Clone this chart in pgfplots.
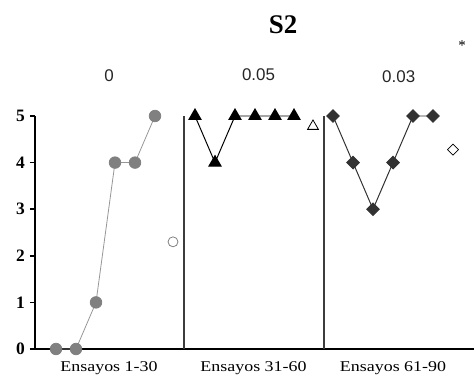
\documentclass[border=0pt]{standalone}
\usepackage{fontspec}
\setmainfont{Liberation Serif}
\newfontfamily\sansf{Liberation Sans}
\usepackage{graphicx}
\usepackage{pgfplots}
\pgfplotsset{compat=1.18}
\definecolor{gcirc}{RGB}{128,128,128}
\definecolor{gline}{RGB}{150,150,150}
\definecolor{dia}{RGB}{50,50,50}
\definecolor{sep}{RGB}{60,60,60}
\begin{document}
\begin{tikzpicture}
\useasboundingbox (-35bp,-32bp) rectangle (439bp,349bp);
\begin{axis}[
  scale only axis, width=439bp, height=233bp,
  xmin=35, xmax=474, ymin=0, ymax=5,
  axis x line*=bottom, axis y line*=left,
  axis line style={-, line width=1.6pt, black},
  xtick=\empty, ytick={0,1,2,3,4,5},
  tick align=outside, major tick length=5bp,
  tick style={line width=1.6pt, black},
  /pgf/number format/assume math mode=true,
  yticklabel style={font=\fontsize{17.5}{17.5}\selectfont\bfseries, inner sep=1pt, xshift=-4bp},
  clip=false,
]
% separators
\draw[sep, line width=1.1pt] (axis cs:184,0) -- (axis cs:184,5);
\draw[sep, line width=1.1pt] (axis cs:324,0) -- (axis cs:324,5);
% group 1
\addplot[gline, line width=0.8pt, mark=*, mark size=5.8pt, mark options={fill=gcirc, draw=gcirc}]
  coordinates {(56,0) (76,0) (96,1) (115,4) (135,4) (155,5)};
\addplot[only marks, mark=o, mark size=5pt, mark options={draw=gcirc, line width=0.8pt, fill=white}]
  coordinates {(173,2.3)};
% group 2
\addplot[black, line width=1pt, mark=triangle*, mark size=7pt, mark options={fill=black}]
  coordinates {(195,5) (215,4) (235,5) (255,5) (275,5) (294,5)};
\addplot[only marks, mark=triangle, mark size=6.3pt, mark options={draw=black, line width=0.8pt, fill=white}]
  coordinates {(313,4.78)};
% group 3
\addplot[dia, line width=1pt, mark=square*, mark size=4.4pt, mark options={fill=dia, draw=dia, rotate=45}]
  coordinates {(333,5) (353,4) (373,3) (393,4) (413,5) (433,5)};
\addplot[only marks, mark=square, mark size=3.9pt, mark options={draw=black, line width=0.7pt, fill=white, rotate=45}]
  coordinates {(453,4.28)};
% labels
\node[anchor=base, font=\fontsize{15}{15}\selectfont] at (axis cs:109,-0.48) {\scalebox{1.2}[1]{Ensayos 1-30}};
\node[anchor=base, font=\fontsize{15}{15}\selectfont] at (axis cs:253.5,-0.48) {\scalebox{1.2}[1]{Ensayos 31-60}};
\node[anchor=base, font=\fontsize{15}{15}\selectfont] at (axis cs:393,-0.48) {\scalebox{1.2}[1]{Ensayos 61-90}};
\node[anchor=base, font=\fontsize{27}{27}\selectfont\bfseries] at (axis cs:283,6.77) {S2};
\node[anchor=base, text=black!85, font=\fontsize{17}{17}\selectfont\sansf] at (axis cs:109,5.74) {0};
\node[anchor=base, text=black!85, font=\fontsize{17}{17}\selectfont\sansf] at (axis cs:258.5,5.76) {0.05};
\node[anchor=base, text=black!85, font=\fontsize{17}{17}\selectfont\sansf] at (axis cs:398.7,5.71) {0.03};
\node[anchor=base, font=\fontsize{15}{15}\selectfont] at (axis cs:462,6.4) {*};
\end{axis}
\end{tikzpicture}
\end{document}
